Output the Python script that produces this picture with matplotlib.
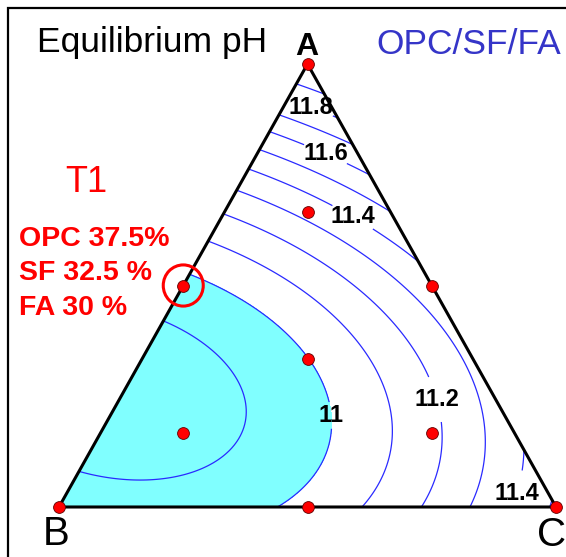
import numpy as np
import matplotlib
matplotlib.use("Agg")
import matplotlib.pyplot as plt
import matplotlib.tri as mtri
from matplotlib.patches import Rectangle, Circle

plt.rcParams['font.family'] = ['Liberation Sans', 'DejaVu Sans']

# Simplex-centroid design (OPC = A, SF = B, FA = C) with axial check blends
frac_a = [1.0, 0.0, 0.0, 0.5, 0.5, 0.0, 1/3, 2/3, 1/6, 1/6]
frac_b = [0.0, 1.0, 0.0, 0.5, 0.0, 0.5, 1/3, 1/6, 2/3, 1/6]
frac_c = [0.0, 0.0, 1.0, 0.0, 0.5, 0.5, 1/3, 1/6, 1/6, 2/3]
ph_measured = [12.02, 10.98, 11.52, 10.96, 11.35, 11.04, 10.97, 11.40, 10.85, 11.18]

plain_levels = [10.9, 11.1, 11.3, 11.5, 11.7, 11.9]
labelled_levels = [11.0, 11.2, 11.4, 11.6, 11.8]
fill_below = 11.0

# T1 mix sits on the OPC-SF edge midpoint
t1_blend = (0.5, 0.5, 0.0)
t1_lines = ["OPC 37.5%", "SF 32.5 %", "FA 30 %"]

H = np.sqrt(3) / 2


def to_xy(a, b, c):
    a, b, c = np.asarray(a, float), np.asarray(b, float), np.asarray(c, float)
    s = a + b + c
    return (c + a / 2) / s, (a * H) / s


def special_cubic(a, b, c):
    return np.column_stack([a, b, c, a * b, a * c, b * c, a * b * c])


# least-squares fit of the Scheffe special cubic
fa, fb, fc = map(np.array, (frac_a, frac_b, frac_c))
coef, *_ = np.linalg.lstsq(special_cubic(fa, fb, fc), np.array(ph_measured), rcond=None)

# triangular lattice over the simplex
n = 150
ga, gb = [], []
for i in range(n + 1):
    for j in range(n + 1 - i):
        ga.append(i / n)
        gb.append(j / n)
ga = np.array(ga)
gb = np.array(gb)
gc = np.clip(1 - ga - gb, 0, 1)
gx, gy = to_xy(ga, gb, gc)
ph_grid = special_cubic(ga, gb, gc) @ coef
tri = mtri.Triangulation(gx, gy)

fig = plt.figure(figsize=(5.66, 5.57), dpi=100)
ax = fig.add_axes([0, 0, 1, 1])
ax.set_xlim(-59 / 497, (566 - 59) / 497)
ax.set_ylim(-(557 - 507) / 511.5, H + 64 / 511.5)
ax.axis('off')

ax.tricontourf(tri, ph_grid, levels=[ph_grid.min() - 1, fill_below],
               colors=['#80ffff'])
ax.tricontour(tri, ph_grid, levels=plain_levels, colors='#2a2aff', linewidths=0.9)
cs = ax.tricontour(tri, ph_grid, levels=labelled_levels, colors='#2a2aff',
                   linewidths=0.9)

label_spots = [(0.499, 0.760), (0.529, 0.674), (0.590, 0.565),
               (0.535, 0.178), (0.767, 0.213), (0.901, 0.033)]
with plt.rc_context({'font.weight': 'bold'}):
    lbls = cs.clabel(inline=True, fontsize=17, colors='black',
                     fmt=lambda v: f"{v:g}", manual=label_spots, inline_spacing=1)
for t in lbls:
    t.set_fontweight('bold')
    t.set_rotation(0)

# triangle outline
vx, vy = to_xy([1, 0, 0, 1], [0, 1, 0, 0], [0, 0, 1, 0])
ax.plot(vx, vy, color='black', lw=2.2, solid_joinstyle='miter', zorder=5)

# design points
px, py = to_xy(fa, fb, fc)
ax.plot(px, py, 'o', ms=8.5, mfc='#ff0000', mec='#600000', mew=0.6,
        zorder=6, clip_on=False)

# T1 highlight ring
tx, ty = to_xy(*t1_blend)
ax.add_patch(Circle((tx, ty), 20 / 497, fill=False, ec='#ff0000', lw=2.2, zorder=7))


def fx(p):
    return p / 566


def fy(p):
    return 1 - p / 557


fig.text(fx(37), fy(52), "Equilibrium pH", fontsize=25.5, va='baseline', ha='left')
fig.text(fx(307), fy(55), "A", fontsize=23, fontweight='bold', va='baseline', ha='center')
fig.text(fx(561), fy(54), "OPC/SF/FA", fontsize=25.5, color='#3535c8',
         va='baseline', ha='right')
fig.text(fx(65), fy(192), "T1", fontsize=26, color='#ff0000', va='baseline', ha='left')
for k, s in enumerate(t1_lines):
    fig.text(fx(19), fy(246 + 34.5 * k), s, fontsize=20.5, fontweight='bold',
             color='#ff0000', va='baseline', ha='left')
fig.text(fx(56), fy(545), "B", fontsize=29, va='baseline', ha='center')
fig.text(fx(566), fy(546), "C", fontsize=29, va='baseline', ha='right')

# outer frame (right/bottom edges fall outside the canvas)
fig.patches.append(Rectangle((fx(8), -0.1), 1.2, fy(8) + 0.1, transform=fig.transFigure,
                             fill=False, ec='black', lw=1.6))

fig.savefig("out.png", dpi=100)
